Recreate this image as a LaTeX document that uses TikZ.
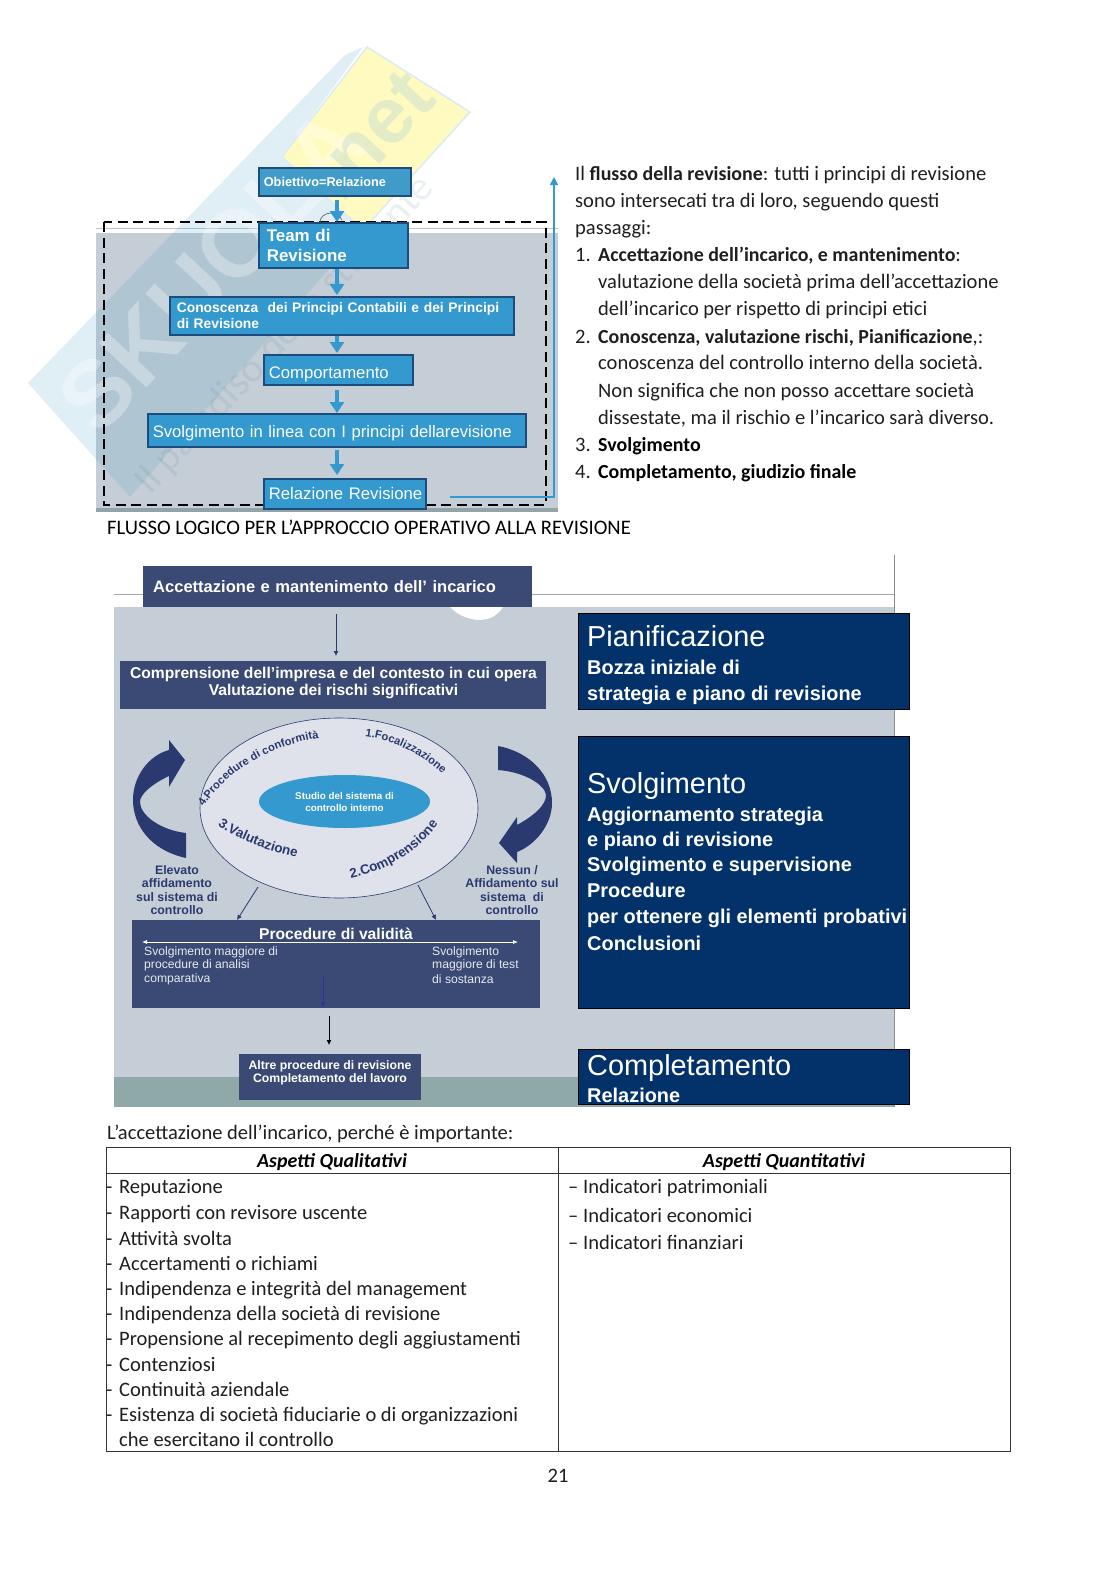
\documentclass[tikz,border=0pt]{standalone}
\usepackage{fontspec}
\setmainfont{Carlito}
\newfontfamily\arialf{Liberation Sans}
\usetikzlibrary{arrows.meta,decorations.text,calc,shapes.geometric}
\definecolor{flowblue}{HTML}{3399CF}
\definecolor{flowedge}{HTML}{1C4C7C}
\definecolor{panelgrey}{HTML}{C5CED6}
\definecolor{stripteal}{HTML}{8FA9A9}
\definecolor{slatenavy}{HTML}{3A4A75}
\definecolor{deepnavy}{HTML}{03326B}
\definecolor{ringfill}{HTML}{DFE2EA}
\definecolor{inkblue}{HTML}{2A3A70}
\definecolor{wmblue}{HTML}{4A9BC4}
\definecolor{wmyellow}{HTML}{FFFBC0}
\newcommand{\ringfont}{\arialf\bfseries\fontsize{11.2}{12}\selectfont\color{inkblue}}
\newcommand{\ringfontb}{\arialf\bfseries\fontsize{13.5}{14}\selectfont\color{inkblue}}
\newcommand{\boldrun}[1]{{\fontsize{20}{24}\selectfont\bfseries #1}}
\tikzset{
  x=1bp,y=-1bp,
  bodyline/.style={anchor=base west,yshift=-6.2bp,inner sep=0pt,font=\fontsize{20.6}{24}\selectfont,text=black!88},
  boldline/.style={bodyline,font=\fontsize{20}{24}\selectfont\bfseries,text=black},
  tableline/.style={bodyline,yshift=-1bp},
  flowbox/.style 2 args={anchor=north west,draw=flowedge,line width=1.6bp,fill=flowblue,text=white,
     align=left,inner xsep=5bp,inner ysep=0pt,text width=#1bp-11.6bp,minimum height=#2bp,font=\arialf\bfseries},
  flowarrow/.style={draw=flowblue,line width=3.6bp,-{Triangle[length=11bp,width=14bp]}},
  slatebox/.style 2 args={anchor=north west,fill=slatenavy,text=white,align=center,inner sep=0pt,
     minimum width=#1bp,minimum height=#2bp,font=\arialf\bfseries},
  navybox/.style 2 args={anchor=north west,fill=deepnavy,draw=black,line width=.8bp,inner sep=0pt,
     minimum width=#1bp,minimum height=#2bp},
  navytext/.style={anchor=base west,inner sep=0pt,text=white,font=\arialf\fontsize{20}{24}\selectfont\bfseries},
  navyhead/.style={anchor=base west,inner sep=0pt,text=white,font=\arialf\fontsize{29}{30}\selectfont},
  thinarrow/.style={draw=#1,line width=.8bp,-{Latex[length=5bp,width=5bp]}},
  sidelabel/.style={anchor=center,inner sep=0pt,text=inkblue,font=\arialf\fontsize{12.4}{13}\selectfont\bfseries},
  lighttext/.style={anchor=west,inner sep=0pt,text=white!88!slatenavy,font=\arialf\fontsize{12.2}{13}\selectfont},
  slateline/.style={anchor=center,inner sep=0pt,text=white},
  ringtext/.style={decorate,decoration={text along path,text align=center,text={|\ringfont|#1}}},
  ringtextb/.style={decorate,decoration={text along path,text align=center,text={|\ringfontb|#1}}},
}
\begin{document}
\begin{tikzpicture}
\useasboundingbox (0,0) rectangle (1116,1579);
\fill[white] (0,0) rectangle (1116,1579);

% first panel
\fill[panelgrey] (96,233) rectangle (558,508);
\fill[stripteal!80!black!60!panelgrey] (96,508) rectangle (558,512);
\draw[black!25,line width=.5bp] (96,228) -- (558,228);

% watermark
\fill[wmblue,opacity=.17] (28,383) -- (345,55) -- (363,47) -- (282,157) -- (363,230) -- (130,497) -- cycle;
\fill[wmyellow,draw=wmblue!20,line width=1.5bp] (367,47) -- (470,112) -- (363,230) -- (282,157) -- cycle;
\node[rotate=47,inner sep=0pt,text=white,text opacity=.3,font=\arialf\fontsize{95}{95}\selectfont\bfseries] (wmname) at (212,270) {SKUOLA};
\node[rotate=47,inner sep=0pt,text=wmblue!60!white,text opacity=.25,font=\arialf\fontsize{80}{80}\selectfont\bfseries] (wmnet) at (372,135) {.net};
\node[rotate=47,inner sep=0pt,text=wmblue!70!black,text opacity=.1,font=\fontsize{41}{41}\selectfont] (wmslogan) at (285,335) {Il paradiso dello studente};

% first flow
\coordinate (xa) at (337,0);
\node[flowbox={154}{28},font=\arialf\bfseries\fontsize{12.8}{14}\selectfont,fill=flowblue!85!stripteal] (obj) at (258,167) {Obiettivo=Relazione};
\node[flowbox={346}{38},inner xsep=7bp,text width=330.4bp,font=\arialf\bfseries\fontsize{13.9}{16}\selectfont] (know) at (169,296) {Conoscenza\ \ dei Principi Contabili e dei Principi\\di Revisione};
\node[flowbox={151}{30},font=\arialf\fontsize{16.8}{20}\selectfont] (behave) at (263,354) {\raisebox{-8.5bp}[0pt][0pt]{Comportamento}};
\node[flowbox={380}{33},font=\arialf\fontsize{16.7}{20}\selectfont] (exec) at (147,413) {\raisebox{-7.5bp}[0pt][0pt]{Svolgimento in linea con I principi dellarevisione}};
\draw[black,line width=2.2bp,dash pattern=on 10bp off 5.5bp] (104,222) rectangle (546,505);
\node[flowbox={164}{30},font=\arialf\fontsize{16.8}{20}\selectfont] (report) at (263,478) {\mbox{Relazione Revisione}};
\node[flowbox={151}{45},inner xsep=8bp,text width=133.4bp,font=\arialf\bfseries\fontsize{17}{20}\selectfont] (team) at (258,222) {Team di\\Revisione};

\draw[black!55,line width=.8bp] (320,222) arc[start angle=180,end angle=10,x radius=11bp,y radius=9bp];
\draw[flowarrow] ($(xa |- obj.south)+(0,3)$) -- (xa |- team.north);
\draw[flowarrow] (xa |- team.south) -- ($(xa |- know.north)+(0,-1)$);
\draw[flowarrow] (xa |- know.south) -- ($(xa |- behave.north)+(0,-1)$);
\draw[flowarrow] ($(xa |- behave.south)+(0,4)$) -- (xa |- exec.north);
\draw[flowarrow] ($(xa |- exec.south)+(0,2)$) -- ($(xa |- report.north)+(0,-3)$);

\coordinate (backtop) at (554,177);
\coordinate (backstart) at (450,497);
\draw[draw=flowblue,line width=1.6bp,-{Triangle[length=8bp,width=8bp]}] (backstart) -- (backstart -| backtop) -- (backtop);

% right text
\node[bodyline] (t1) at (575,174) {Il \boldrun{flusso della revisione}: tutti i principi di revisione};
\node[bodyline] (t2) at (575,201) {sono intersecati tra di loro, seguendo questi};
\node[bodyline] (t3) at (575,228) {passaggi:};
\node[bodyline] (n1) at (575,255) {1.};
\node[bodyline] (t4) at (598,255) {\boldrun{Accettazione dell’incarico, e mantenimento}:};
\node[bodyline] (t5) at (598,282) {valutazione della società prima dell’accettazione};
\node[bodyline] (t6) at (598,309) {dell’incarico per rispetto di principi etici};
\node[bodyline] (n2) at (575,337) {2.};
\node[bodyline] (t7) at (598,337) {\boldrun{Conoscenza, valutazione rischi, Pianificazione},:};
\node[bodyline] (t8) at (598,363) {conoscenza del controllo interno della società.};
\node[bodyline] (t9) at (598,391) {Non significa che non posso accettare società};
\node[bodyline] (t10) at (598,418) {dissestate, ma il rischio e l’incarico sarà diverso.};
\node[bodyline] (n3) at (575,445) {3.};
\node[boldline] (t11) at (598,445) {Svolgimento};
\node[bodyline] (n4) at (575,472) {4.};
\node[boldline] (t12) at (598,472) {Completamento, giudizio finale};
\node[tableline,text=black,font=\fontsize{20.7}{24}\selectfont] (heading) at (107,527) {FLUSSO LOGICO PER L’APPROCCIO OPERATIVO ALLA REVISIONE};

% second panel
\fill[panelgrey] (114,607) rectangle (894,1107);
\fill[stripteal] (114,1077) rectangle (894,1107);
\draw[black!35,line width=.4bp] (114,594) -- (894,594);
\draw[black!45,line width=.6bp] (894,555) -- (894,1107);
\fill[white] (450,607) .. controls (462,620) and (490,628) .. (503,607) -- cycle;

\node[slatebox={389}{41},text width=369bp,align=left,font=\arialf\bfseries\fontsize{16.6}{20}\selectfont] (accept) at (143,566) {Accettazione e mantenimento dell’ incarico};
\node[slatebox={426}{48}] (understand) at (120,661) {};
\node[slateline,font=\arialf\bfseries\fontsize{15.7}{17}\selectfont] (u1) at (333.5,674) {Comprensione dell’impresa e del contesto in cui opera};
\node[slateline,font=\arialf\bfseries\fontsize{15.7}{17}\selectfont] (u2) at (333.5,691) {Valutazione dei rischi significativi};
\coordinate (xb) at (336,0);
\draw[thinarrow=inkblue] ($(xb |- accept.south)+(0,7)$) -- ($(xb |- understand.north)+(0,-5)$);

% ring
\node[ellipse,draw=inkblue,line width=.6bp,fill=ringfill,minimum width=278bp,minimum height=180bp,inner sep=0pt] (ring) at (339,808) {};
\node[ellipse,fill=flowblue,draw=none,minimum width=171bp,minimum height=53bp,inner sep=0pt,align=center,text=white,font=\arialf\bfseries\fontsize{9.9}{12}\selectfont] (study) at (344.5,801.5) {Studio del sistema di\\controllo interno};
\path[ringtext={4.Procedure di conformità}] (203,808) .. controls (225,772) and (270,745) .. (320,738);
\path[ringtext={1.Focalizzazione}] (360,736) .. controls (390,738) and (425,755) .. (446,778);
\path[ringtextb={3.Valutazione}] (215,823) .. controls (235,838) and (262,850) .. (300,858);
\path[ringtextb={2.Comprensione}] (344,880) .. controls (385,873) and (422,850) .. (442,818);

% curved arrows
\fill[inkblue] (186,858) .. controls (150,850) and (133,825) .. (133,800)
   .. controls (133,775) and (150,755) .. (169,750) -- (169,740) -- (185,760) -- (169,787) -- (169,776)
   .. controls (150,785) and (140,795) .. (140,802) .. controls (140,815) and (160,830) .. (186,833) -- cycle;
\fill[inkblue] (498,746) .. controls (530,752) and (552,775) .. (552,803)
   .. controls (552,825) and (535,845) .. (517,852) -- (517,863) -- (499,843) -- (517,817) -- (517,825)
   .. controls (535,815) and (546,805) .. (546,795) .. controls (545,785) and (525,772) .. (498,770) -- cycle;

\node[sidelabel] (l1) at (177,870) {Elevato};
\node[sidelabel] (l2) at (177,883) {affidamento};
\node[sidelabel] (l3) at (177,897) {sul sistema di};
\node[sidelabel] (l4) at (177,910) {controllo};
\node[sidelabel] (r1) at (512,870) {Nessun /};
\node[sidelabel] (r2) at (512,883) {Affidamento sul};
\node[sidelabel] (r3) at (512,897) {sistema\ \ di};
\node[sidelabel] (r4) at (512,910) {controllo};

\node[slatebox={408}{88}] (valid) at (132,920) {};
\coordinate (ringl) at (258,887);
\coordinate (ringr) at (418,885);
\coordinate (validl) at (237,920);
\coordinate (validr) at (436,920);
\draw[thinarrow=inkblue] (ringl) -- (validl);
\draw[thinarrow=inkblue] (ringr) -- (validr);
\node[slateline,font=\arialf\bfseries\fontsize{15.7}{17}\selectfont] (validt) at (336,934) {Procedure di validità};
\coordinate (ll) at (142,942);
\coordinate (lr) at (518,942);
\draw[white,line width=.7bp,{Latex[length=5bp,width=4bp]}-{Latex[length=5bp,width=4bp]}] (ll) -- (lr);
\node[lighttext] (v1) at (144,952) {Svolgimento maggiore di};
\node[lighttext] (v2) at (144,965) {procedure di analisi};
\node[lighttext] (v3) at (144,979) {comparativa};
\node[lighttext] (v4) at (432,952) {Svolgimento};
\node[lighttext] (v5) at (432,965) {maggiore di test};
\node[lighttext] (v6) at (432,979) {di sostanza};
\coordinate (vs) at (323,977);
\coordinate (ve) at (323,1007);
\draw[thinarrow=slatenavy!70!blue] (vs) -- (ve);

\node[slatebox={182}{46}] (other) at (239,1054) {};
\node[slateline,font=\arialf\bfseries\fontsize{12.3}{14}\selectfont] (o1) at (330,1066) {Altre procedure di revisione};
\node[slateline,font=\arialf\bfseries\fontsize{12.3}{14}\selectfont] (o2) at (330,1079) {Completamento del lavoro};
\coordinate (xc) at (329,0);
\draw[thinarrow=black] ($(xc |- valid.south)+(0,8)$) -- ($(xc |- other.north)+(0,-9)$);

% navy boxes
\node[navybox={331}{96}] (plan) at (578,613) {};
\node[navybox={331}{272}] (work) at (578,736) {};
\node[navybox={331}{55}] (close) at (578,1049) {};
\node[navyhead] (p1) at (587,646) {Pianificazione};
\node[navytext] (p2) at (587,674) {Bozza iniziale di};
\node[navytext] (p3) at (587,700) {strategia e piano di revisione};
\node[navyhead] (w1) at (587,793) {Svolgimento};
\node[navytext] (w2) at (587,821) {Aggiornamento strategia};
\node[navytext] (w3) at (587,846) {e piano di revisione};
\node[navytext] (w4) at (587,871) {Svolgimento e supervisione};
\node[navytext] (w5) at (587,897) {Procedure};
\node[navytext] (w6) at (587,923) {per ottenere gli elementi probativi};
\node[navytext] (w7) at (587,950) {Conclusioni};
\node[navyhead] (c1) at (587,1075) {Completamento};
\node[navytext] (c2) at (587,1102) {Relazione};

% table
\node[tableline] (intro) at (107,1132) {L’accettazione dell’incarico, perché è importante:};
\coordinate (tl) at (106,1147);
\coordinate (br) at (1010,1451);
\coordinate (hl) at (106,1173);
\coordinate (hr) at (1010,1173);
\coordinate (mt) at (558,1147);
\coordinate (mb) at (558,1451);
\draw[black!80,line width=.9bp] (tl) rectangle (br);
\draw[black!80,line width=.9bp] (hl) -- (hr);
\draw[black!80,line width=.9bp] (mt) -- (mb);
\node[anchor=base,yshift=-6.2bp,inner sep=0pt,font=\fontsize{20}{24}\selectfont\bfseries\itshape] (hq) at (332,1161) {Aspetti Qualitativi};
\node[anchor=base,yshift=-6.2bp,inner sep=0pt,font=\fontsize{20}{24}\selectfont\bfseries\itshape] (hn) at (784,1161) {Aspetti Quantitativi};
\foreach \yy/\tt in {1186.5/Reputazione,1212.7/Rapporti con revisore uscente,1238/Attività svolta,1263/Accertamenti o richiami,1288/Indipendenza e integrità del management,1313/Indipendenza della società di revisione,1338/Propensione al recepimento degli aggiustamenti,1364/Contenziosi,1389/Continuità aziendale,1414/Esistenza di società fiduciarie o di organizzazioni}
 {\node[tableline] (q\yy) at (106,\yy) {-};
  \node[tableline] (qt\yy) at (119,\yy) {\tt};}
\node[tableline] (qlast) at (119,1439) {che esercitano il controllo};
\foreach \yy/\tt in {1186.5/Indicatori patrimoniali,1215/Indicatori economici,1242/Indicatori finanziari}
 {\node[tableline] (d\yy) at (568,\yy) {–};
  \node[tableline] (dt\yy) at (583,\yy) {\tt};}
\node[tableline,anchor=base] (page) at (558,1475) {21};
\end{tikzpicture}
\end{document}
